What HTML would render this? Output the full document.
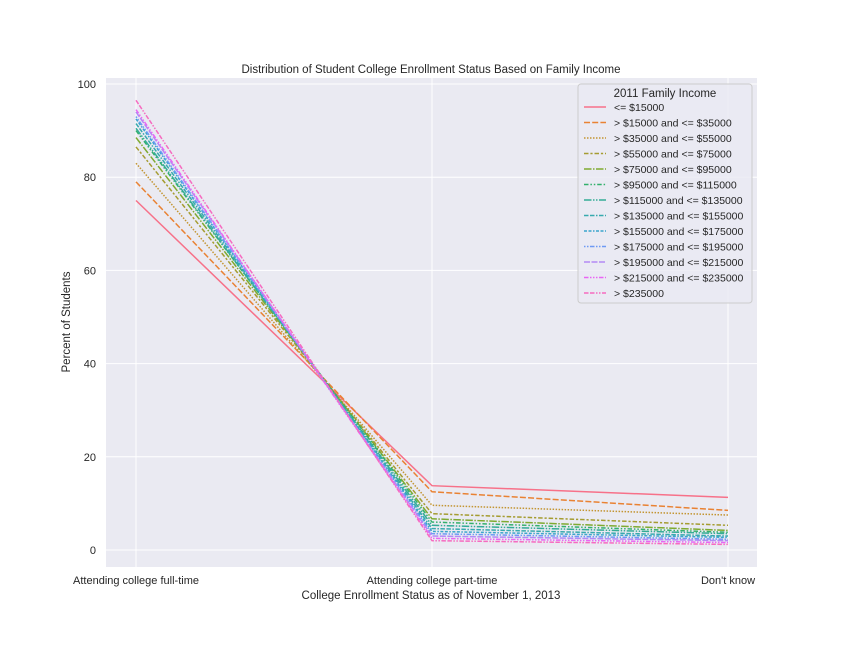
<!DOCTYPE html>
<html><head><meta charset="utf-8"><style>
body{margin:0;background:#fff;font-family:"Liberation Sans","DejaVu Sans",sans-serif;}
svg text{font-family:"Liberation Sans","DejaVu Sans",sans-serif;fill:#262626;}
</style></head><body>
<svg id="chart" width="842" height="648" xmlns="http://www.w3.org/2000/svg">
<rect x="106" y="78" width="651" height="489" fill="#eaeaf2"/>
<g id="grid"></g><g id="lines"></g><g id="axes"></g><g id="legend"></g>
<text x="431" y="73" font-size="11.5" text-anchor="middle">Distribution of Student College Enrollment Status Based on Family Income</text>
<text x="431" y="599" font-size="11.5" text-anchor="middle">College Enrollment Status as of November 1, 2013</text>
<text transform="translate(70,322) rotate(-90)" font-size="11.5" text-anchor="middle">Percent of Students</text>
</svg>
<script>
const categories=["Attending college full-time","Attending college part-time","Don't know"];
const seriesNames=["<= $15000","> $15000 and <= $35000","> $35000 and <= $55000","> $55000 and <= $75000","> $75000 and <= $95000","> $95000 and <= $115000","> $115000 and <= $135000","> $135000 and <= $155000","> $155000 and <= $175000","> $175000 and <= $195000","> $195000 and <= $215000","> $215000 and <= $235000","> $235000"];
const fullTime=[75,79,83,86.5,88.5,90,90.5,91.5,92.5,93,94,94.5,96.5];
const partTime=[13.8,12.5,9.6,7.8,6.7,6,5.3,4.6,4,3.5,3,2.5,2];
const dontKnow=[11.3,8.5,7.5,5.3,4.2,3.8,3.5,3,2.7,2.3,2,1.6,1.2];
const yTicks=[0,20,40,60,80,100];
const colors=["#f77189","#e98233","#c39532","#a59c31","#7faa31","#33b06c","#35ac97","#37aaae","#3aa5cc","#6e9af4","#b38af4","#e866f4","#f66bc0"];
const dashes=["","6,2.2","1.5,1.5","4.5,1.9,2.2,1.9","7.5,1.5,1.5,1.5","4.5,1.9,1.5,1.9,1.5,1.9","7.5,1.5,1.5,1.5,1.5,1.5","4.5,1.5,4.5,1.5,1.5,1.5","3,1.5,3,1.5,1.5,1.5","1.5,1.5,1.5,1.5,4.5,1.5","6,1.5,6,1.5","4.5,1.5,1.5,1.5,1.5,1.5,1.5,1.5","4.5,1.5,4.5,1.5,1.5,1.5,1.5,1.5"];
const NS="http://www.w3.org/2000/svg";
const xs=i=>136+i*296;
const ys=v=>550-v*4.66;
function mk(tag,attrs,parent){const e=document.createElementNS(NS,tag);for(const k in attrs)e.setAttribute(k,attrs[k]);parent.appendChild(e);return e;}
const grid=document.getElementById('grid'),lines=document.getElementById('lines'),axes=document.getElementById('axes'),leg=document.getElementById('legend');
yTicks.forEach(t=>{
 const l=mk('line',{x1:106,x2:757,y1:ys(t),y2:ys(t),stroke:'#fff','stroke-width':1},grid);
 
 
 const tx=mk('text',{x:96,y:ys(t)+4,'font-size':11,'text-anchor':'end'},axes);tx.textContent=t;
 
 
});
categories.forEach((c,i)=>{
 const l=mk('line',{x1:xs(i),x2:xs(i),y1:78,y2:567,stroke:'#fff','stroke-width':1},grid);
 
 
 const tx=mk('text',{x:xs(i),y:584,'font-size':11,'text-anchor':'middle'},axes);tx.textContent=c;
 
 
});
seriesNames.forEach((n,s)=>{
 const vals=[fullTime[s],partTime[s],dontKnow[s]];
 const p=mk('polyline',{points:vals.map((v,i)=>xs(i)+','+ys(v)).join(' '),fill:'none',stroke:colors[s],'stroke-width':1.5,'stroke-dasharray':dashes[s]},lines);
 
 
});
const box=mk('rect',{x:578,y:84,width:174,height:219,rx:3,fill:'#eaeaf2',stroke:'#ccc','stroke-width':1,'fill-opacity':0.8},leg);


const lt=mk('text',{x:665,y:97,'font-size':11.5,'text-anchor':'middle'},leg);lt.textContent='2011 Family Income';


seriesNames.forEach((n,s)=>{
 const y=107+s*15.5;
 const l=mk('line',{x1:584,x2:606,y1:y,y2:y,stroke:colors[s],'stroke-width':1.5,'stroke-dasharray':dashes[s]},leg);
 
 
 const t=mk('text',{x:614,y:y+4,'font-size':10.5},leg);t.textContent=n;
 
 
});
</script>
</body></html>
